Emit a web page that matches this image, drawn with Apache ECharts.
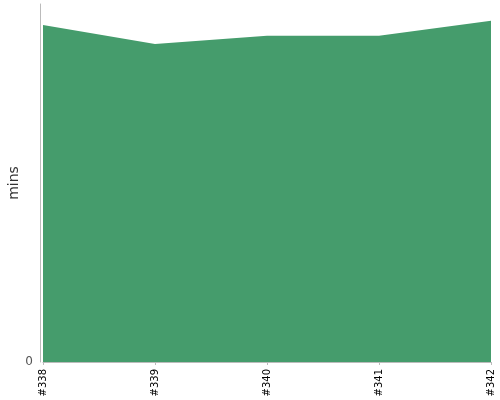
<!DOCTYPE html>
<html>
<head>
<meta charset="utf-8">
<script src="https://cdn.jsdelivr.net/npm/echarts@6/dist/echarts.min.js"></script>
<style>
  html, body { margin: 0; padding: 0; background: #fff; }
  #chart { width: 500px; height: 400px; }
</style>
</head>
<body>
<div id="chart"></div>
<script>
// build numbers and duration (axis max = 100)
const builds = ['#338', '#339', '#340', '#341', '#342'];
const durations = [94.1, 88.8, 91.1, 91.1, 95.3];
const yMax = 100;

const myChart = echarts.init(document.getElementById('chart'));

const options = {
    animation: false,
    grid: {
        left: 43,
        right: 9,
        top: 4,
        bottom: 38,
        containLabel: false,
        outerBoundsMode: 'none'
    },
    xAxis: {
        type: 'category',
        data: builds,
        boundaryGap: false,
        offset: 3,
        axisLine: { lineStyle: { color: '#bbb', width: 1 } },
        axisTick: { show: true, length: 3, lineStyle: { color: '#bbb' } },
        axisLabel: {
            rotate: 90,
            fontSize: 10,
            color: '#000',
            fontFamily: 'DejaVu Sans',
            margin: 4
        },
        splitLine: { show: false }
    },
    yAxis: {
        type: 'value',
        min: 0,
        max: yMax,
        interval: yMax,
        offset: 3,
        name: 'mins',
        nameLocation: 'middle',
        nameGap: 19,
        nameMoveOverlap: false,
        nameTextStyle: { fontSize: 14, color: '#333', fontFamily: 'DejaVu Sans' },
        axisLine: { show: true, lineStyle: { color: '#bbb', width: 1 } },
        axisTick: { show: false },
        axisLabel: {
            showMaxLabel: false,
            fontSize: 12,
            color: '#555',
            fontFamily: 'DejaVu Sans',
            margin: 7
        },
        splitLine: { show: false }
    },
    series: [
        {
            type: 'line',
            data: durations,
            symbol: 'none',
            lineStyle: { width: 0 },
            areaStyle: { color: '#459c6c', opacity: 1 }
        }
    ]
};

myChart.setOption(options);
</script>
</body>
</html>
